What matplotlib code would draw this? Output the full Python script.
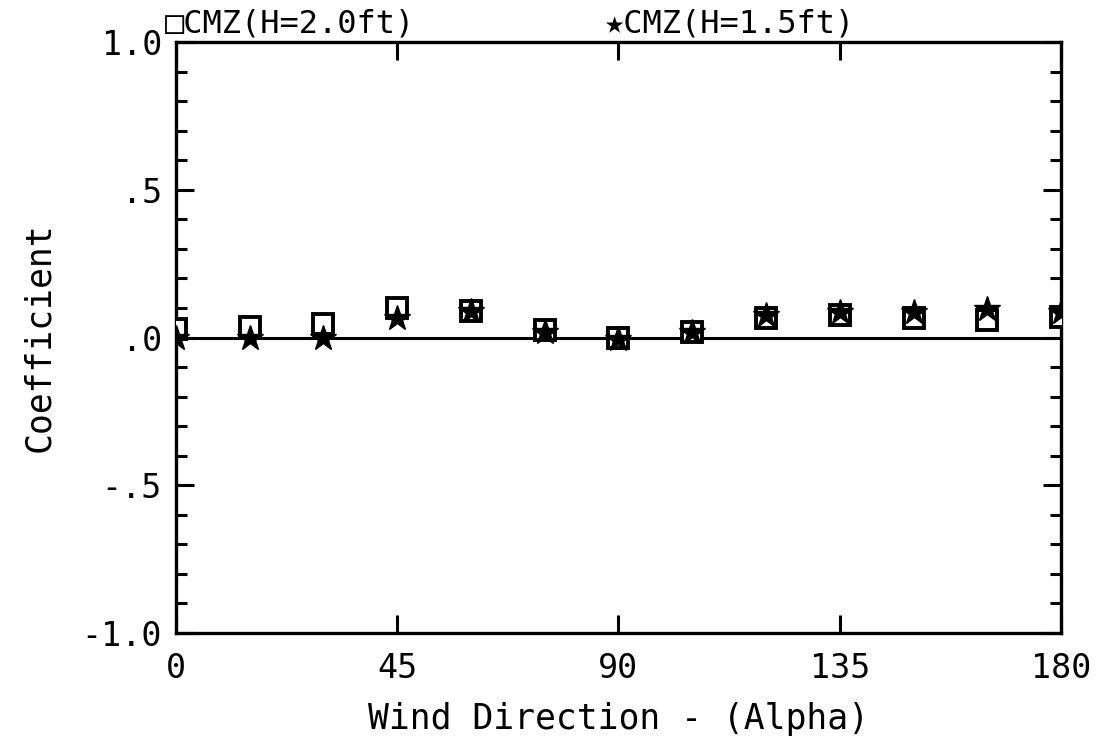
import numpy as np
import matplotlib
matplotlib.use("Agg")
import matplotlib.pyplot as plt
from matplotlib.ticker import MultipleLocator

# ==========================================
# DATA
# ==========================================
alpha = [0, 15, 30, 45, 60, 75, 90, 105, 120, 135, 150, 165, 180]
cmz_h20 = [0.03, 0.035, 0.045, 0.10, 0.09, 0.025, 0.0, 0.02, 0.065, 0.075, 0.065, 0.06, 0.07]
cmz_h15 = [0.0, 0.0, 0.0, 0.065, 0.09, 0.02, -0.005, 0.02, 0.075, 0.085, 0.085, 0.095, 0.085]

x_ticks = [0, 45, 90, 135, 180]
x_labels = ["0", "45", "90", "135", "180"]
y_ticks = [-1.0, -0.5, 0.0, 0.5, 1.0]
y_labels = ["-1.0", "-.5", ".0", ".5", "1.0"]

FONT = ["DejaVu Sans Mono", "DejaVu Sans"]
plt.rcParams["font.family"] = FONT

fig = plt.figure(figsize=(10.97, 7.39), dpi=100)
ax = fig.add_axes([0.1604, 0.1434, 0.8068, 0.7998])

# zero line
ax.axhline(0, color="black", linewidth=2.2, zorder=1)

ax.plot(alpha, cmz_h20, linestyle="none", marker="s", markersize=14,
        markerfacecolor="white", markeredgecolor="black", markeredgewidth=2.8, zorder=3)
ax.plot(alpha, cmz_h15, linestyle="none", marker="*", markersize=19,
        color="black", zorder=4)

ax.set_xlim(0, 180)
ax.set_ylim(-1.0, 1.0)
ax.set_xticks(x_ticks)
ax.set_xticklabels(x_labels)
ax.set_yticks(y_ticks)
ax.set_yticklabels(y_labels)
ax.yaxis.set_minor_locator(MultipleLocator(0.1))

for s in ax.spines.values():
    s.set_linewidth(2.4)

ax.tick_params(axis="both", which="major", direction="in", length=13, width=2.2,
               top=True, right=True, labelsize=24)
ax.tick_params(axis="x", which="major", pad=14)
ax.tick_params(axis="y", which="major", pad=10)
ax.tick_params(axis="y", which="minor", direction="in", length=8, width=2.2,
               left=True, right=True)

ax.set_xlabel("Wind Direction - (Alpha)", fontsize=25, labelpad=12)
ax.set_ylabel("Coefficient", fontsize=25, labelpad=18)

# legend as text above the frame
fig.text(0.150, 0.988, "\u25a1CMZ(H=2.0ft)", fontsize=23, family=FONT,
         ha="left", va="top")
fig.text(0.551, 0.988, "\u2605CMZ(H=1.5ft)", fontsize=23, family=FONT,
         ha="left", va="top")

fig.savefig("out.png", dpi=100)
